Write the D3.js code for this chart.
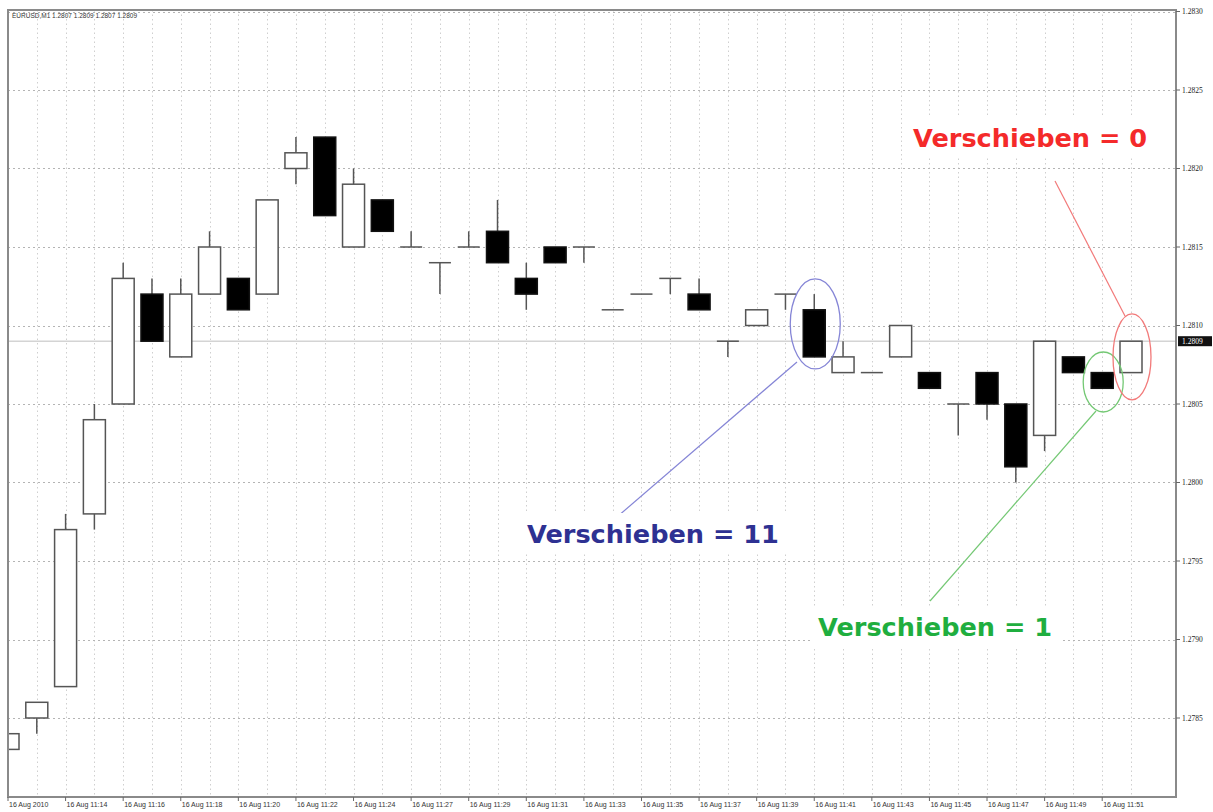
<!DOCTYPE html>
<html>
<head>
<meta charset="utf-8">
<script src="https://cdn.jsdelivr.net/npm/d3@7"></script>
<style>
  body { margin: 0; background: #fff; }
  svg { display: block; }
</style>
</head>
<body>
<script>
// EURUSD M1 bars, 16 Aug 2010
var opens  = [1.2783,1.2785,1.2787,1.2798,1.2805,1.2812,1.2808,1.2812,1.2813,1.2812,
              1.2820,1.2822,1.2815,1.2818,1.2815,1.2814,1.2815,1.2816,1.2813,1.2815,
              1.2815,1.2811,1.2812,1.2813,1.2812,1.2809,1.2810,1.2812,1.2811,1.2807,
              1.2807,1.2808,1.2807,1.2805,1.2807,1.2805,1.2803,1.2808,1.2807,1.2807];
var highs  = [1.2785,1.2786,1.2798,1.2805,1.2814,1.2813,1.2813,1.2816,1.2813,1.2818,
              1.2822,1.2822,1.2820,1.2818,1.2816,1.2814,1.2816,1.2818,1.2814,1.2815,
              1.2815,1.2811,1.2812,1.2813,1.2813,1.2809,1.2811,1.2812,1.2812,1.2809,
              1.2807,1.2810,1.2807,1.2805,1.2807,1.2805,1.2809,1.2808,1.2807,1.2809];
var lows   = [1.2783,1.2784,1.2787,1.2797,1.2805,1.2809,1.2808,1.2812,1.2811,1.2812,
              1.2819,1.2817,1.2815,1.2816,1.2815,1.2812,1.2815,1.2814,1.2811,1.2814,
              1.2814,1.2811,1.2812,1.2812,1.2811,1.2808,1.2810,1.2811,1.2808,1.2807,
              1.2807,1.2808,1.2806,1.2803,1.2804,1.2800,1.2802,1.2807,1.2806,1.2807];
var closes = [1.2784,1.2786,1.2797,1.2804,1.2813,1.2809,1.2812,1.2815,1.2811,1.2818,
              1.2821,1.2817,1.2819,1.2816,1.2815,1.2814,1.2815,1.2814,1.2812,1.2814,
              1.2815,1.2811,1.2812,1.2813,1.2811,1.2809,1.2811,1.2812,1.2808,1.2808,
              1.2807,1.2810,1.2806,1.2805,1.2805,1.2801,1.2809,1.2807,1.2806,1.2809];

// time labels, one every 2 bars
var timeLabels = ["16 Aug 2010","16 Aug 11:14","16 Aug 11:16","16 Aug 11:18","16 Aug 11:20",
                  "16 Aug 11:22","16 Aug 11:24","16 Aug 11:27","16 Aug 11:29","16 Aug 11:31",
                  "16 Aug 11:33","16 Aug 11:35","16 Aug 11:37","16 Aug 11:39","16 Aug 11:41",
                  "16 Aug 11:43","16 Aug 11:45","16 Aug 11:47","16 Aug 11:49","16 Aug 11:51"];
var priceTicks = [1.2785,1.2790,1.2795,1.2800,1.2805,1.2810,1.2815,1.2820,1.2825,1.2830];
var lastPrice = 1.2809;

var W = 1213, H = 812;
// plot box (note: "top" is reserved on window, so keep it in an object)
var box = {left: 8, right: 1176, top: 10, bottom: 797};

var svg = d3.select("body").append("svg")
    .attr("width", W).attr("height", H);

var x = d3.scaleLinear().domain([0, 39]).range([8, 1131]);
var y = d3.scaleLinear().domain([1.2785, 1.2830]).range([718, 11.5]);

svg.append("clipPath").attr("id", "plot")
  .append("rect").attr("x", box.left).attr("y", box.top)
  .attr("width", box.right - box.left).attr("height", box.bottom - box.top);

var bars = d3.range(opens.length).map(function(i) {
    return {i: i, o: opens[i], h: highs[i], l: lows[i], c: closes[i]};
});

// grid
var grid = svg.append("g").attr("clip-path", "url(#plot)");
grid.selectAll("line.v").data(bars).enter().append("line")
    .attr("class", "v")
    .attr("x1", function(d) { return Math.round(x(d.i)) + 0.5; })
    .attr("x2", function(d) { return Math.round(x(d.i)) + 0.5; })
    .attr("y1", box.top).attr("y2", box.bottom)
    .attr("stroke", "#cfcfcf").attr("stroke-dasharray", "1.5,3");
grid.selectAll("line.h").data(priceTicks).enter().append("line")
    .attr("class", "h")
    .attr("x1", box.left).attr("x2", box.right)
    .attr("y1", function(d) { return Math.round(y(d)) + 0.5; })
    .attr("y2", function(d) { return Math.round(y(d)) + 0.5; })
    .attr("stroke", "#b4b4b4").attr("stroke-dasharray", "2,3");

// last price line
grid.append("line")
    .attr("x1", box.left).attr("x2", box.right)
    .attr("y1", y(lastPrice)).attr("y2", y(lastPrice))
    .attr("stroke", "#d4d4d4").attr("stroke-width", 1.5);

// candles
var bodyW = 22;
var candles = svg.append("g").attr("clip-path", "url(#plot)");
candles.selectAll("line.wick").data(bars).enter().append("line")
    .attr("class", "wick")
    .attr("x1", function(d) { return x(d.i); }).attr("x2", function(d) { return x(d.i); })
    .attr("y1", function(d) { return y(d.h); }).attr("y2", function(d) { return y(d.l); })
    .attr("stroke", "#555").attr("stroke-width", 1.5);
candles.selectAll("rect.body").data(bars.filter(function(d) { return d.o != d.c; })).enter().append("rect")
    .attr("class", "body")
    .attr("x", function(d) { return x(d.i) - bodyW / 2; })
    .attr("y", function(d) { return y(Math.max(d.o, d.c)); })
    .attr("width", bodyW)
    .attr("height", function(d) { return Math.abs(y(d.o) - y(d.c)); })
    .attr("fill", function(d) { return d.c > d.o ? "#fff" : "#000"; })
    .attr("stroke", function(d) { return d.c > d.o ? "#555" : "#111"; })
    .attr("stroke-width", 1.5);
candles.selectAll("line.doji").data(bars.filter(function(d) { return d.o == d.c; })).enter().append("line")
    .attr("class", "doji")
    .attr("x1", function(d) { return x(d.i) - bodyW / 2; })
    .attr("x2", function(d) { return x(d.i) + bodyW / 2; })
    .attr("y1", function(d) { return y(d.o); }).attr("y2", function(d) { return y(d.o); })
    .attr("stroke", "#555").attr("stroke-width", 1.5);

// frame
svg.append("rect").attr("x", box.left).attr("y", box.top)
    .attr("width", box.right - box.left).attr("height", box.bottom - box.top)
    .attr("fill", "none").attr("stroke", "#8a8a8a").attr("stroke-width", 2);

// right price axis
var yAxis = svg.append("g").attr("font-family", "Liberation Serif, serif").attr("font-size", "7.5px");
yAxis.selectAll("line").data(priceTicks).enter().append("line")
    .attr("x1", box.right).attr("x2", box.right + 4)
    .attr("y1", function(d) { return y(d); }).attr("y2", function(d) { return y(d); })
    .attr("stroke", "#666");
yAxis.selectAll("text").data(priceTicks).enter().append("text")
    .attr("x", box.right + 6).attr("y", function(d) { return y(d) + 2.5; })
    .attr("fill", "#222")
    .text(function(d) { return d.toFixed(4); });

yAxis.append("rect").attr("x", box.right + 2).attr("y", y(lastPrice) - 5)
    .attr("width", 34).attr("height", 10).attr("fill", "#111");
yAxis.append("text").attr("x", box.right + 6).attr("y", y(lastPrice) + 2.5)
    .attr("fill", "#fff").text(lastPrice.toFixed(4));

// bottom time axis
var xAxis = svg.append("g").attr("font-family", "Liberation Sans, Arial, sans-serif").attr("font-size", "7px");
xAxis.selectAll("line").data(timeLabels).enter().append("line")
    .attr("x1", function(d, k) { return x(k * 2); }).attr("x2", function(d, k) { return x(k * 2); })
    .attr("y1", box.bottom).attr("y2", box.bottom + 4)
    .attr("stroke", "#666");
xAxis.selectAll("text").data(timeLabels).enter().append("text")
    .attr("x", function(d, k) { return x(k * 2) + 1; })
    .attr("y", box.bottom + 10)
    .attr("fill", "#333")
    .text(function(d) { return d; });

// chart caption
svg.append("text").attr("x", 12).attr("y", 18)
    .attr("font-family", "Liberation Sans, Arial, sans-serif").attr("font-size", "6.5px")
    .attr("fill", "#333")
    .text("EURUSD,M1  1.2807 1.2809 1.2807 1.2809");

// annotations
var notes = [
    {text: "Verschieben = 11", color: "#2e3192", ring: "#8585d6", bar: 28, price: 1.28101, rx: 25, ry: 45,
     tx: 527, ty: 543, from: [797, 362], to: [610, 523]},
    {text: "Verschieben = 1", color: "#1fae3f", ring: "#74c874", bar: 38, price: 1.28064, rx: 20, ry: 30,
     tx: 818, ty: 636, from: [1096, 411], to: [930, 601]},
    {text: "Verschieben = 0", color: "#f42a2a", ring: "#f27a7a", bar: 39, price: 1.28080, rx: 19, ry: 43,
     tx: 913, ty: 147, from: [1125, 316], to: [1055, 181]}
];

var ann = svg.append("g");
notes.forEach(function(n) {
    ann.append("ellipse")
        .attr("cx", x(n.bar) + 1).attr("cy", y(n.price))
        .attr("rx", n.rx).attr("ry", n.ry)
        .attr("fill", "none").attr("stroke", n.ring).attr("stroke-width", 1.3);
    ann.append("line")
        .attr("x1", n.from[0]).attr("y1", n.from[1])
        .attr("x2", n.to[0]).attr("y2", n.to[1])
        .attr("stroke", n.ring).attr("stroke-width", 1.2);
    var t = ann.append("text")
        .attr("x", n.tx).attr("y", n.ty)
        .attr("font-family", "DejaVu Sans, Verdana, sans-serif")
        .attr("font-weight", "bold").attr("font-size", "25.6px")
        .attr("fill", n.color)
        .text(n.text);
    var bb = t.node().getBBox();
    ann.insert("rect", function() { return t.node(); })
        .attr("x", bb.x - 8).attr("y", bb.y - 6)
        .attr("width", bb.width + 16).attr("height", bb.height + 10)
        .attr("fill", "#fff");
});
</script>
</body>
</html>
